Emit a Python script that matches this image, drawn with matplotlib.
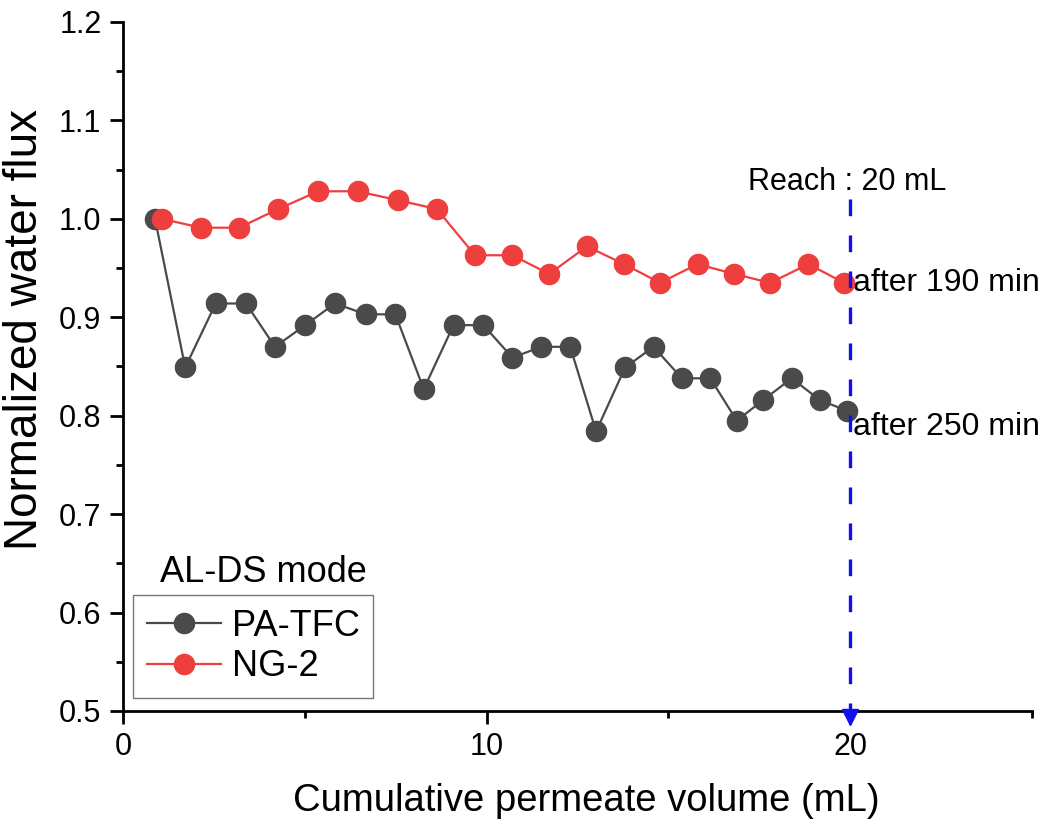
import matplotlib
matplotlib.use("Agg")
import matplotlib.pyplot as plt

plt.rcParams['font.family'] = ['Liberation Sans', 'DejaVu Sans']

# Data
pa_x = [0.88, 1.71, 2.55, 3.38, 4.18, 5.01, 5.83, 6.68, 7.49, 8.27, 9.09, 9.91,
        10.71, 11.50, 12.30, 13.01, 13.81, 14.59, 15.37, 16.15, 16.88, 17.61, 18.39, 19.16, 19.91]
pa_y = [1.000, 0.849, 0.914, 0.914, 0.870, 0.892, 0.914, 0.903, 0.903, 0.827, 0.892, 0.892,
        0.859, 0.870, 0.870, 0.784, 0.849, 0.870, 0.838, 0.838, 0.795, 0.816, 0.838, 0.816, 0.805]
ng_x = [1.06, 2.15, 3.19, 4.27, 5.37, 6.45, 7.55, 8.63, 9.68, 10.71, 11.72, 12.76,
        13.78, 14.77, 15.80, 16.81, 17.80, 18.85, 19.83]
ng_y = [1.000, 0.991, 0.991, 1.010, 1.028, 1.028, 1.019, 1.010, 0.963, 0.963, 0.944, 0.972,
        0.954, 0.935, 0.954, 0.944, 0.935, 0.954, 0.935]
series_labels = ['PA-TFC', 'NG-2']
reach_x = 20
x_ticks = [0, 10, 20]
y_ticks = [0.5, 0.6, 0.7, 0.8, 0.9, 1.0, 1.1, 1.2]

fig = plt.figure(figsize=(10.47, 8.27), dpi=100)
ax = fig.add_axes([0.1175, 0.1403, 0.8682, 0.8331])

gray = '#4a4a4a'
red = '#ef3e3e'
l1, = ax.plot(pa_x, pa_y, '-o', color=gray, lw=1.6, ms=14.5, label=series_labels[0], zorder=3)
l2, = ax.plot(ng_x, ng_y, '-o', color=red, lw=1.6, ms=14.5, label=series_labels[1], zorder=4)

ax.set_xlim(0, 25)
ax.set_ylim(0.5, 1.2)
ax.set_xticks(x_ticks)
ax.set_xticks([5, 15, 25], minor=True)
ax.set_yticks(y_ticks)
ax.set_yticklabels([f'{v:.1f}' for v in y_ticks])
ax.set_yticks([0.55, 0.65, 0.75, 0.85, 0.95, 1.05, 1.15], minor=True)

for s in ['top', 'right']:
    ax.spines[s].set_visible(False)
for s in ['left', 'bottom']:
    ax.spines[s].set_linewidth(2.0)
ax.tick_params(which='major', direction='out', length=9.5, width=2.0, labelsize=22, pad=6)
ax.tick_params(which='minor', direction='out', length=5, width=2.0)

ax.set_xlabel('Cumulative permeate volume (mL)', fontsize=27.5)
ax.xaxis.set_label_coords(0.5099, -0.105)
ax.set_ylabel('Normalized water flux', fontsize=33)
ax.yaxis.set_label_coords(-0.084, 0.5544)

# dashed vertical line with arrow
ax.plot([reach_x, reach_x], [1.02, 0.497], color='#1010ee', lw=2.4, dashes=(5, 5.8), zorder=5, clip_on=False)
ax.plot([reach_x], [0.494], marker='v', color='#1010ee', ms=12, zorder=6, clip_on=False)

ax.text(17.19, 1.037, 'Reach : 20 mL', fontsize=22, va='center', ha='left')
ax.text(20.08, 0.935, 'after 190 min', fontsize=23, va='center', ha='left')
ax.text(20.08, 0.789, 'after 250 min', fontsize=23, va='center', ha='left')
ax.text(1.02, 0.641, 'AL-DS mode', fontsize=26, va='center', ha='left')

leg = ax.legend(handles=[l1, l2], loc='lower left', bbox_to_anchor=(0.011, 0.019),
                borderaxespad=0, fontsize=26, frameon=True, fancybox=False,
                handlelength=2.05, handletextpad=0.3, borderpad=0.38, labelspacing=0.15)
leg.get_frame().set_edgecolor('#555555')
leg.get_frame().set_linewidth(1.0)
for h in leg.legend_handles:
    h.set_markersize(14.5)

fig.savefig('out.png', dpi=100)
